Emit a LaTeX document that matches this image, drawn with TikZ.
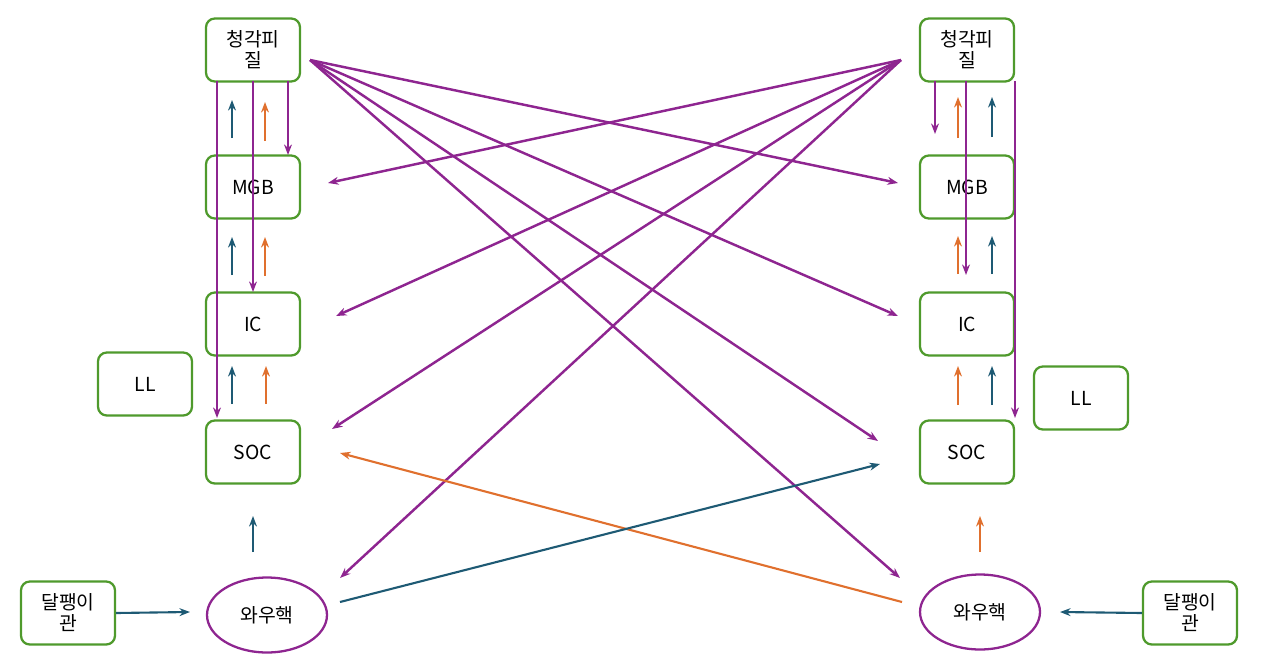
\documentclass[tikz,border=0pt]{standalone}
\usepackage{fontspec}
\setmainfont{Noto Sans CJK KR}
\usetikzlibrary{arrows.meta,shapes.geometric}
\definecolor{boxgreen}{HTML}{4F9A2C}
\definecolor{pathpurple}{HTML}{8E2590}
\definecolor{pathorange}{HTML}{E0702E}
\definecolor{pathblue}{HTML}{1E5A74}
\tikzset{
  area/.style={draw=boxgreen, line width=1.3pt, rounded corners=5pt, minimum width=1.88cm, minimum height=1.26cm, align=center, font=\fontsize{11}{12}\selectfont, inner sep=1pt},
  nucleus/.style={ellipse, draw=pathpurple, line width=1.3pt, minimum width=2.4cm, minimum height=1.5cm, font=\fontsize{11}{12}\selectfont},
  down/.style={-{Stealth[length=6pt]}, draw=pathpurple, line width=1.4pt},
  upb/.style={-{Stealth[length=6pt]}, draw=pathblue, line width=1.2pt},
  upo/.style={-{Stealth[length=6pt]}, draw=pathorange, line width=1.2pt}
}
\begin{document}
\begin{tikzpicture}[x=0.02cm, y=-0.02cm]
	\useasboundingbox (0,0) rectangle (1280,669);
	% 왼쪽
	\node[area] (ac1)  at (253,50)  {청각피\\질};
	\node[area] (mgb1) at (253,187) {MGB};
	\node[area] (ic1)  at (253,324) {IC};
	\node[area] (soc1) at (253,452) {SOC};
	\node[area] (ll1)  at (145,384) {LL};
	\node[nucleus] (cn1) at (267,615) {와우핵};
	\node[area] (co1)  at (68,613)  {달팽이\\관};
	% 오른쪽
	\node[area] (ac2)  at (967,50)  {청각피\\질};
	\node[area] (mgb2) at (967,187) {MGB};
	\node[area] (ic2)  at (967,324) {IC};
	\node[area] (soc2) at (967,452) {SOC};
	\node[area] (ll2)  at (1081,398) {LL};
	\node[nucleus] (cn2) at (980,612) {와우핵};
	\node[area] (co2)  at (1190,613) {달팽이\\관};

	% 끝점
	\coordinate (s1) at (310,60);   \coordinate (s2) at (901,60);
	\coordinate (m1) at (328,183);  \coordinate (m2) at (898,183);
	\coordinate (i1) at (336,316);  \coordinate (i2) at (898,316);
	\coordinate (o1) at (332,429);  \coordinate (o2) at (878,441);
	\coordinate (c1) at (340,578);  \coordinate (c2) at (900,578);

	% 하행 (왼쪽)
	\draw[down] (217,81) -- (217,418);
	\draw[down] (253,81) -- (253,292);
	\draw[down] (288,81) -- (288,155);
	% 상행 (왼쪽)
	\draw[upb] (232,138) -- (232,100);  \draw[upo] (265,141) -- (265,102);
	\draw[upb] (232,275) -- (232,237);  \draw[upo] (265,276) -- (265,237);
	\draw[upb] (232,404) -- (232,366);  \draw[upo] (266,404) -- (266,366);
	\draw[upb] (253,552) -- (253,516);
	% 하행 (오른쪽)
	\draw[down] (935,81) -- (935,134);
	\draw[down] (966,81) -- (966,275);
	\draw[down] (1015,81) -- (1015,418);
	% 상행 (오른쪽)
	\draw[upo] (958,138) -- (958,97);   \draw[upb] (992,137) -- (992,97);
	\draw[upo] (958,274) -- (958,236);  \draw[upb] (992,274) -- (992,236);
	\draw[upo] (958,405) -- (958,366);  \draw[upb] (992,405) -- (992,366);
	\draw[upo] (980,552) -- (980,516);

	% 교차
	\foreach \t in {m2,i2,o2,c2} \draw[down] (s1) -- (\t);
	\foreach \t in {m1,i1,o1,c1} \draw[down] (s2) -- (\t);
	\draw[upo] (902,602) -- (340,453);
	\draw[upb] (340,602) -- (880,464);
	\draw[upb] (co1.east) -- (190,612);
	\draw[upb] (co2.west) -- (1060,612);
\end{tikzpicture}
\end{document}
